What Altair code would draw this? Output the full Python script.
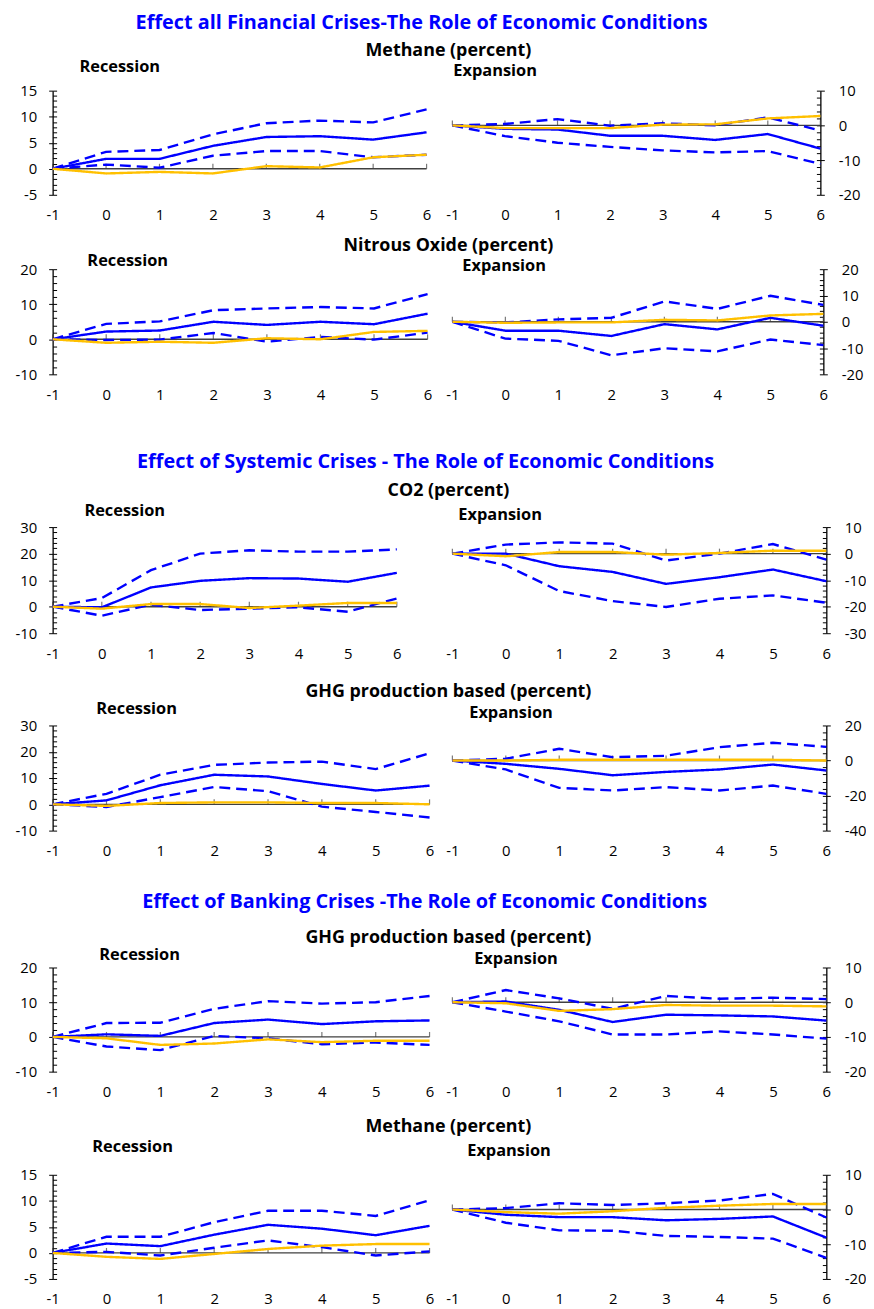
import altair as alt
import pandas as pd

# ---------------- data ----------------
H = [-1, 0, 1, 2, 3, 4, 5, 6]

SECTION_TITLES = [
    "Effect all Financial Crises-The Role of Economic Conditions",
    "Effect of Systemic Crises - The Role of Economic Conditions",
    "Effect of Banking Crises -The Role of Economic Conditions",
]
SUBTITLES = [
    "Methane (percent)",
    "Nitrous Oxide (percent)",
    "CO2 (percent)",
    "GHG production based (percent)",
    "GHG production based (percent)",
    "Methane (percent)",
]
PANEL_LABELS = ["Recession", "Expansion"]

# Row 1: all financial crises, methane
r1_rec_mean = [0, 1.9, 1.9, 4.4, 6.1, 6.25, 5.6, 7.0]
r1_rec_up = [0, 3.25, 3.6, 6.6, 8.75, 9.25, 8.9, 11.4]
r1_rec_lo = [0, 0.8, 0.2, 2.5, 3.4, 3.4, 2.2, 2.7]
r1_rec_oth = [0, -0.9, -0.6, -0.9, 0.5, 0.25, 2.2, 2.7]
r1_exp_mean = [0, -1.0, -1.2, -3.0, -3.0, -4.2, -2.5, -6.7]
r1_exp_up = [0, 0.4, 1.8, -0.1, 0.6, 0.0, 2.3, -1.5]
r1_exp_lo = [0, -3.1, -5.0, -6.2, -7.2, -7.8, -7.4, -11.1]
r1_exp_oth = [0, -0.8, -0.8, -0.8, 0.2, 0.3, 2.0, 2.7]

# Row 2: all financial crises, nitrous oxide
r2_rec_mean = [0, 2.2, 2.5, 5.0, 4.1, 5.0, 4.3, 7.3]
r2_rec_up = [0, 4.4, 5.1, 8.3, 8.8, 9.2, 8.8, 12.9]
r2_rec_lo = [0, -0.2, -0.1, 1.8, -0.7, 0.7, -0.1, 1.9]
r2_rec_oth = [0, -1.0, -0.7, -1.0, 0.3, 0.0, 2.1, 2.4]
r2_exp_mean = [0, -3.4, -3.4, -5.4, -0.9, -2.9, 1.5, -1.5]
r2_exp_up = [0, -0.25, 0.9, 1.5, 7.75, 4.9, 9.9, 6.4]
r2_exp_lo = [0, -6.4, -7.25, -12.75, -10.1, -11.25, -6.75, -8.9]
r2_exp_oth = [0, -0.4, -0.25, -0.25, 0.75, 0.5, 2.4, 3.0]

# Row 3: systemic crises, CO2
r3_rec_mean = [0, -0.25, 7.25, 9.75, 10.75, 10.6, 9.4, 12.75]
r3_rec_up = [0, 3.25, 13.75, 20.0, 21.25, 20.75, 20.75, 21.6]
r3_rec_lo = [0, -3.4, 0.75, -1.25, -0.75, -0.25, -1.9, 3.1]
r3_rec_oth = [0, -0.75, 1.0, 1.0, -0.5, 0.4, 1.4, 1.4]
r3_exp_mean = [0, 0.0, -4.75, -6.9, -11.4, -8.9, -6.0, -10.4]
r3_exp_up = [0, 3.4, 4.25, 3.75, -2.6, 0.0, 3.6, -2.25]
r3_exp_lo = [0, -4.4, -14.1, -17.9, -20.1, -17.0, -15.75, -18.5]
r3_exp_oth = [0, -1.0, 0.6, 0.6, -0.4, 0.25, 1.1, 1.1]

# Row 4: systemic crises, GHG production based
r4_rec_mean = [0, 1.5, 7.25, 11.25, 10.6, 7.75, 5.25, 7.1]
r4_rec_up = [0, 4.0, 11.25, 15.0, 15.9, 16.25, 13.4, 19.4]
r4_rec_lo = [0, -1.0, 2.75, 6.6, 5.0, -0.9, -2.9, -5.0]
r4_rec_oth = [0, -0.6, 0.5, 0.75, 0.75, 0.5, 0.5, 0.0]
r4_exp_mean = [0, -1.9, -4.75, -8.4, -6.5, -5.1, -2.3, -5.7]
r4_exp_up = [0, 1.0, 6.7, 1.9, 2.7, 7.6, 10.1, 7.8]
r4_exp_lo = [0, -5.1, -15.6, -17.1, -15.2, -17.1, -14.3, -19.0]
r4_exp_oth = [0, 0.0, 0.4, 0.4, 0.4, 0.4, 0.4, 0.0]

# Row 5: banking crises, GHG production based
r5_rec_mean = [0, 0.75, 0.3, 4.0, 5.0, 3.7, 4.5, 4.75]
r5_rec_up = [0, 4.0, 4.1, 8.1, 10.3, 9.6, 10.0, 11.8]
r5_rec_lo = [0, -2.75, -3.8, 0.3, -0.4, -2.1, -1.6, -2.3]
r5_rec_oth = [0, -0.4, -2.3, -1.9, -0.7, -1.5, -1.1, -1.1]
r5_exp_mean = [0, 0.2, -2.2, -5.7, -3.6, -3.8, -4.1, -5.3]
r5_exp_up = [0, 3.5, 1.1, -1.9, 1.8, 1.0, 1.3, 0.9]
r5_exp_lo = [0, -2.7, -5.5, -9.3, -9.3, -8.4, -9.3, -10.5]
r5_exp_oth = [0, -0.3, -2.5, -2.0, -0.8, -1.0, -1.0, -1.2]

# Row 6: banking crises, methane
r6_rec_mean = [0, 1.8, 1.3, 3.5, 5.4, 4.65, 3.4, 5.2]
r6_rec_up = [0, 3.1, 3.1, 5.9, 8.1, 8.1, 7.1, 10.1]
r6_rec_lo = [0, 0.2, -0.5, 1.0, 2.4, 1.1, -0.5, 0.3]
r6_rec_oth = [0, -0.75, -1.15, -0.2, 0.75, 1.4, 1.7, 1.7]
r6_exp_mean = [0, -1.5, -2.2, -2.2, -3.1, -2.7, -2.0, -8.1]
r6_exp_up = [0, 0.4, 1.8, 1.3, 1.8, 2.6, 4.5, -2.3]
r6_exp_lo = [0, -3.8, -6.0, -6.1, -7.6, -7.9, -8.4, -13.9]
r6_exp_oth = [0, -0.75, -1.2, -0.5, 0.5, 1.1, 1.6, 1.6]

# ---------------- style ----------------
FONT = "Open Sans"
BLUE = "#0000FF"
GOLD = "#FFC000"
ZERO = "#404040"
SERIES = ["upper", "lower", "mean", "other"]
PLAIN_LABEL = "'' + datum.value"


def panel(mean, up, lo, oth, dom, major, side, w, hgt):
    recs = []
    for name, arr in zip(SERIES, [up, lo, mean, oth]):
        for hh, v in zip(H, arr):
            recs.append({"h": hh, "v": v, "s": name})
    df = pd.DataFrame(recs)
    xs = alt.Scale(domain=[-1, 6], nice=False, zero=False)
    ys = alt.Scale(domain=dom, nice=False, zero=False)
    majors = list(range(dom[0], dom[1] + 1, major))
    step = major / 5
    n = int(round((dom[1] - dom[0]) / step))
    minors = [dom[0] + i * step for i in range(n + 1)]
    lab_orient = "left" if side == "L" else "right"
    tick_orient = "right" if side == "L" else "left"
    lab_pad = 12 if side == "L" else 14

    rule = alt.Chart(pd.DataFrame({"h": [H[0]], "h2": [H[-1]], "z": [0]})).mark_rule(
        color=ZERO, strokeWidth=1.4
    ).encode(
        x=alt.X("h:Q", scale=xs),
        x2="h2:Q",
        y=alt.Y(
            "z:Q",
            scale=ys,
            axis=alt.Axis(
                orient=tick_orient, offset=-w, values=minors, labels=False,
                ticks=True, tickSize=4, tickColor="black", tickWidth=1,
                domain=True, domainColor="black", domainWidth=1.3,
                grid=False, title=None,
            ),
        ),
    )
    ticks = alt.Chart(pd.DataFrame({"h": H, "z": [0] * len(H)})).mark_tick(
        orient="vertical", size=5, thickness=1.2, color=ZERO, yOffset=-2.5
    ).encode(
        x=alt.X("h:Q", scale=xs),
        y=alt.Y("z:Q", scale=ys, axis=None),
    )
    lines = alt.Chart(df).mark_line(strokeWidth=2.4).encode(
        x=alt.X(
            "h:Q", scale=xs,
            axis=alt.Axis(
                orient="bottom", values=H, labelExpr=PLAIN_LABEL, domain=False, ticks=False,
                tickSize=0, labelPadding=13, grid=False, title=None, labels=True,
                labelFlush=False, labelOverlap=False,
            ),
        ),
        y=alt.Y(
            "v:Q", scale=ys,
            axis=alt.Axis(
                orient=lab_orient, values=majors, labelExpr=PLAIN_LABEL, domain=False,
                ticks=True, tickSize=4, tickColor="black", labelPadding=lab_pad,
                grid=False, title=None, labelFlush=False, labelOverlap=False,
            ),
        ),
        color=alt.Color("s:N", scale=alt.Scale(domain=SERIES, range=[BLUE, BLUE, BLUE, GOLD]), legend=None),
        strokeDash=alt.StrokeDash(
            "s:N",
            scale=alt.Scale(domain=SERIES, range=[[11, 6], [11, 6], [1, 0], [1, 0]]),
            legend=None,
        ),
    )
    return alt.layer(rule, ticks, lines).properties(width=w, height=hgt)


def text_cell(items, hgt, w):
    layers = []
    for txt, x, y, size, color, align in items:
        layers.append(
            alt.Chart(pd.DataFrame({"t": [txt]})).mark_text(
                font=FONT, fontSize=size, fontWeight="bold", color=color,
                align=align, baseline="middle",
            ).encode(text="t:N", x=alt.value(x), y=alt.value(y))
        )
    return alt.layer(*layers).properties(width=w, height=hgt)


SEC = 20
SUB = 18
LAB = 16.5
CX_SEC = [372, 376, 375]
CX_SUB = 399
GAP = 23

rows_spec = [
    # (section idx or None, text row height, distances above plot top: section, sub, (rec x, d), (exp x, d))
    (0, 77, 68, 40, (27, 24), (1, 20)),
    (None, 75, None, 23, (35, 8), (10, 3)),
    (1, 154, 66, 36, (32, 16), (6, 12)),
    (None, 93, None, 34, (44, 17), (17, 13)),
    (2, 138, 66, 30, (47, 13), (22, 9)),
    (None, 104, None, 48, (40, 28), (15, 24)),
]

panels_spec = [
    (r1_rec_mean, r1_rec_up, r1_rec_lo, r1_rec_oth, [-5, 15], 5, 377,
     r1_exp_mean, r1_exp_up, r1_exp_lo, r1_exp_oth, [-20, 10], 10, 371, 105),
    (r2_rec_mean, r2_rec_up, r2_rec_lo, r2_rec_oth, [-10, 20], 10, 378,
     r2_exp_mean, r2_exp_up, r2_exp_lo, r2_exp_oth, [-20, 20], 10, 374, 106),
    (r3_rec_mean, r3_rec_up, r3_rec_lo, r3_rec_oth, [-10, 30], 10, 347,
     r3_exp_mean, r3_exp_up, r3_exp_lo, r3_exp_oth, [-30, 10], 10, 377, 107),
    (r4_rec_mean, r4_rec_up, r4_rec_lo, r4_rec_oth, [-10, 30], 10, 380,
     r4_exp_mean, r4_exp_up, r4_exp_lo, r4_exp_oth, [-40, 20], 20, 377, 106),
    (r5_rec_mean, r5_rec_up, r5_rec_lo, r5_rec_oth, [-10, 20], 10, 380,
     r5_exp_mean, r5_exp_up, r5_exp_lo, r5_exp_oth, [-20, 10], 10, 377, 105),
    (r6_rec_mean, r6_rec_up, r6_rec_lo, r6_rec_oth, [-5, 15], 5, 380,
     r6_exp_mean, r6_exp_up, r6_exp_lo, r6_exp_oth, [-20, 10], 10, 377, 105),
]

cells = []
for i, (sec, th, dsec, dsub, rec, exp) in enumerate(rows_spec):
    items = []
    if sec is not None:
        items.append((SECTION_TITLES[sec], CX_SEC[sec], th - dsec, SEC, BLUE, "center"))
    items.append((SUBTITLES[i], CX_SUB, th - dsub, SUB, "black", "center"))
    items.append((PANEL_LABELS[0], rec[0], th - rec[1], LAB, "black", "left"))
    cells.append(text_cell(items, th, 340))
    cells.append(text_cell([(PANEL_LABELS[1], exp[0], th - exp[1], LAB, "black", "left")], th, 340))

    (lm, lu, ll, lo_, ld, lmaj, lw, em, eu, el, eo, ed, emaj, ew, ph) = panels_spec[i]
    cells.append(panel(lm, lu, ll, lo_, ld, lmaj, "L", lw, ph))
    cells.append(panel(em, eu, el, eo, ed, emaj, "R", ew, ph))

chart = alt.concat(
    *cells, columns=2, spacing={"row": 0, "column": GAP}, bounds="flush"
).properties(
    padding={"left": 7, "top": 0, "right": 0, "bottom": 0}
).configure_view(stroke=None).configure_axis(
    labelFont=FONT, labelFontSize=15, labelColor="black"
)

chart.save("out.html", embed_options={"renderer": "svg", "actions": False})
